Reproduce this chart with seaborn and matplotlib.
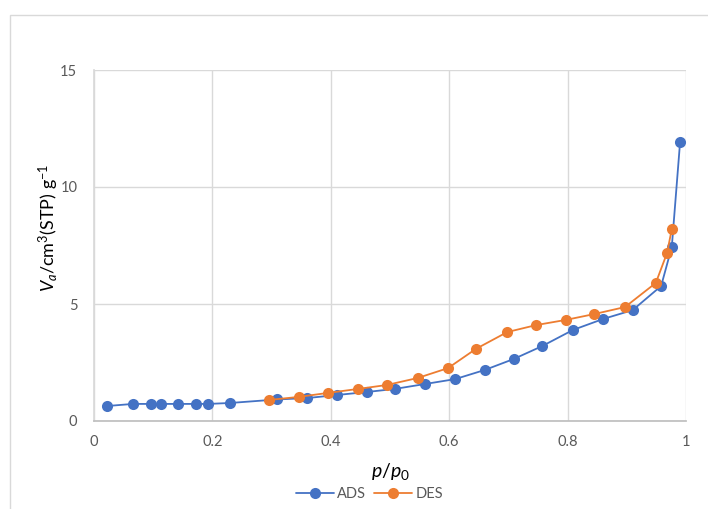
import matplotlib
matplotlib.use("Agg")
import matplotlib.pyplot as plt
from matplotlib.patches import Rectangle
import seaborn as sns
import pandas as pd

# Adsorption branch (relative pressure, adsorbed volume)
ads_p = [0.022, 0.066, 0.096, 0.113, 0.142, 0.172, 0.193, 0.230, 0.309, 0.360,
         0.410, 0.461, 0.508, 0.559, 0.610, 0.660, 0.709, 0.757, 0.809, 0.860,
         0.910, 0.958, 0.976, 0.990]
ads_v = [0.64, 0.73, 0.73, 0.73, 0.73, 0.73, 0.73, 0.77, 0.92, 0.98,
         1.11, 1.24, 1.37, 1.58, 1.79, 2.18, 2.65, 3.20, 3.89, 4.36,
         4.74, 5.77, 7.44, 11.92]

# Desorption branch
des_p = [0.296, 0.346, 0.395, 0.446, 0.495, 0.547, 0.598, 0.645, 0.698, 0.747,
         0.797, 0.845, 0.897, 0.949, 0.968, 0.976]
des_v = [0.90, 1.03, 1.20, 1.37, 1.54, 1.84, 2.26, 3.08, 3.80, 4.10,
         4.32, 4.57, 4.87, 5.90, 7.18, 8.20]

x_ticks = [0, 0.2, 0.4, 0.6, 0.8, 1]
x_ticklabels = ["0", "0.2", "0.4", "0.6", "0.8", "1"]
y_ticks = [0, 5, 10, 15]

df = pd.concat([
    pd.DataFrame({"p": ads_p, "V": ads_v, "branch": "ADS"}),
    pd.DataFrame({"p": des_p, "V": des_v, "branch": "DES"}),
], ignore_index=True)

sns.set_theme(style="white")
plt.rcParams["font.family"] = ["Lato", "DejaVu Sans"]
plt.rcParams["mathtext.fontset"] = "custom"
plt.rcParams["mathtext.rm"] = "Lato"
plt.rcParams["mathtext.it"] = "Lato:italic"

fig = plt.figure(figsize=(7.08, 5.09), dpi=100)
ax = fig.add_axes([94 / 708, 1 - 421 / 509, 592 / 708, 351 / 509])

# chart-area frame
fig.patches.append(Rectangle((10 / 708, -0.05), 1.1, 1 - 15 / 509 + 0.05,
                             transform=fig.transFigure, fill=False,
                             edgecolor="#d9d9d9", linewidth=1.0, zorder=0))

palette = {"ADS": "#4472C4", "DES": "#ED7D31"}
sns.lineplot(data=df, x="p", y="V", hue="branch", palette=palette,
             sort=False, estimator=None, marker="o", markersize=8,
             markeredgewidth=0, linewidth=1.3, ax=ax)

ax.set_xlim(0, 1)
ax.set_ylim(0, 15)
ax.set_xticks(x_ticks)
ax.set_xticklabels(x_ticklabels)
ax.set_yticks(y_ticks)
ax.grid(True, color="#d9d9d9", linewidth=1.0)
ax.set_axisbelow(True)
for side in ["top", "right"]:
    ax.spines[side].set_visible(False)
ax.spines["left"].set_color("#d9d9d9")
ax.spines["bottom"].set_color("#bfbfbf")
ax.tick_params(axis="both", length=0, labelsize=10.5, labelcolor="#595959")
ax.tick_params(axis="x", pad=10)
ax.tick_params(axis="y", pad=12)

ax.set_xlabel(r"$p/p_\mathrm{0}$", fontsize=14, color="#000000", labelpad=6)
ax.xaxis.set_label_coords(0.5, -0.115)
ax.set_ylabel(r"$V_a$/cm$^3$(STP) g$^{-1}$", fontsize=13, color="#000000",
              labelpad=4)
ax.yaxis.set_label_coords(-0.056, 0.55)

handles, labels = ax.get_legend_handles_labels()
ax.legend(handles, labels, loc="upper center", bbox_to_anchor=(0.465, -0.15),
          ncol=2, frameon=False, fontsize=10.5, labelcolor="#595959",
          handlelength=2.6, columnspacing=0.6, handletextpad=0.2)

fig.savefig("out.png", dpi=100)
